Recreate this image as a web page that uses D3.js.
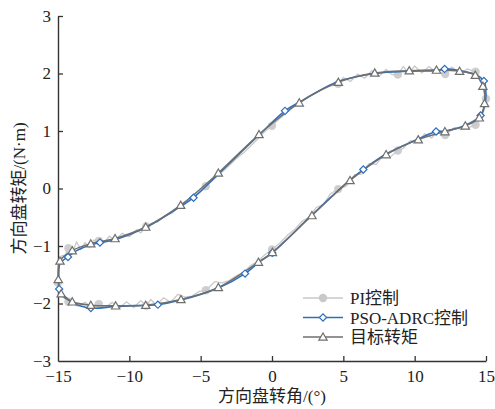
<!DOCTYPE html>
<html>
<head>
<meta charset="utf-8">
<script src="https://cdn.jsdelivr.net/npm/d3@7"></script>
<style>
  html, body { margin: 0; padding: 0; background: #fff; }
  svg { display: block; }
  text { font-family: "Liberation Serif", "Noto Sans CJK SC", serif; fill: #222; }
</style>
</head>
<body>
<svg id="chart" width="495" height="409"></svg>
<script>
// Steering-wheel torque vs. steering angle: hysteresis loops, traversed
// clockwise (upper branch left→right, lower branch right→left).

// Target torque (also the triangle marker positions)
const targetAngle  = [-14.98, -14.86, -14.0, -12.7, -11.0, -8.85, -6.4, -3.76, -0.91, 1.91, 4.65, 7.2, 9.62, 11.53, 13.15, 14.25, 14.78, 14.9, 14.53, 13.55, 12.12, 10.25, 8.0, 5.47, 2.8, 0.03, -0.95, -3.76, -6.38, -8.85, -10.96, -12.7, -14.0, -14.78];
const targetTorque = [-1.58, -1.26, -1.08, -0.96, -0.87, -0.67, -0.29, 0.27, 0.94, 1.49, 1.85, 2.01, 2.05, 2.06, 2.04, 1.97, 1.78, 1.48, 1.23, 1.09, 0.99, 0.85, 0.59, 0.14, -0.47, -1.11, -1.28, -1.72, -1.93, -2.03, -2.04, -2.03, -1.97, -1.83];

// PSO-ADRC control
const adrcAngle  = [-14.95, -14.85, -14.3, -13.9, -12.7, -12.06, -11.0, -8.85, -6.4, -5.5, -3.76, -0.91, 0.91, 1.91, 4.65, 7.2, 9.62, 11.53, 12.1, 13.15, 14.25, 14.85, 15.0, 14.9, 14.62, 13.55, 12.12, 11.5, 10.25, 8.0, 6.4, 5.47, 2.8, 0.02, -0.95, -1.89, -3.76, -6.38, -8.0, -8.85, -10.96, -12.7, -14.0, -14.92];
const adrcTorque = [-1.62, -1.30, -1.19, -1.11, -0.98, -0.94, -0.89, -0.68, -0.31, -0.16, 0.25, 0.93, 1.35, 1.50, 1.86, 2.00, 2.04, 2.05, 2.08, 2.05, 1.98, 1.87, 1.62, 1.45, 1.27, 1.10, 1.00, 0.99, 0.86, 0.60, 0.33, 0.15, -0.46, -1.12, -1.29, -1.48, -1.73, -1.94, -2.02, -2.03, -2.05, -2.08, -1.98, -1.75];
const adrcMarkAngle  = [-14.3, -12.06, -5.5, 0.91, 12.1, 14.85, 14.62, 11.5, 6.4, 0.02, -1.89, -8.0, -12.7, -14.92];
const adrcMarkTorque = [-1.19, -0.94, -0.16, 1.35, 2.08, 1.87, 1.27, 0.99, 0.33, -1.12, -1.48, -2.02, -2.08, -1.75];

// PI control (measured, noisy)
const piAngle = [
  -14.97, -14.92, -14.75, -14.50, -14.27, -14.00, -13.70, -13.40, -13.10, -12.80,
  -12.50, -12.14, -11.80, -11.40, -11.00, -10.50, -10.00, -9.50, -9.20, -8.82,
  -8.40, -8.00, -7.50, -7.00, -6.50, -6.00, -5.50, -5.00, -4.64, -4.20,
  -3.80, -3.40, -3.00, -2.50, -2.00, -1.50, -1.00, -0.50, 0.00, 0.50,
  1.00, 1.50, 2.00, 2.50, 3.00, 3.50, 4.00, 4.64, 5.00, 5.50,
  6.00, 6.50, 7.00, 7.50, 8.00, 8.40, 8.82, 9.20, 9.60, 10.00,
  10.50, 11.00, 11.50, 12.14, 12.60, 13.20, 13.70, 14.27, 14.65, 14.92,
  15.00, 14.90, 14.65, 14.27, 13.80, 13.30, 12.80, 12.14, 11.70, 11.20,
  10.70, 10.20, 9.70, 9.20, 8.82, 8.30, 7.80, 7.30, 6.80, 6.30,
  5.80, 5.20, 4.64, 4.10, 3.60, 3.10, 2.60, 2.10, 1.60, 1.10,
  0.60, 0.00, -0.50, -1.00, -1.50, -2.00, -2.50, -3.00, -3.50, -4.00,
  -4.64, -5.10, -5.60, -6.10, -6.60, -7.10, -7.60, -8.10, -8.50, -8.82,
  -9.20, -9.70, -10.20, -10.70, -11.20, -11.70, -12.14, -12.60, -13.10, -13.60,
  -14.27, -14.65, -14.90, -15.00
];
const piTorque = [
  -1.52, -1.36, -1.17, -1.16, -1.04, -1.12, -0.93, -1.06, -0.94, -1.03,
  -0.90, -0.91, -0.95, -0.83, -0.90, -0.78, -0.84, -0.72, -0.77, -0.66,
  -0.60, -0.58, -0.47, -0.43, -0.30, -0.22, -0.14, -0.05, 0.04, 0.14,
  0.22, 0.31, 0.40, 0.52, 0.62, 0.74, 0.86, 0.99, 1.09, 1.21,
  1.31, 1.42, 1.49, 1.60, 1.65, 1.72, 1.77, 1.82, 1.93, 1.86,
  1.99, 1.92, 2.05, 1.95, 2.07, 1.98, 1.98, 2.12, 2.00, 2.13,
  2.01, 2.12, 2.02, 1.99, 2.11, 2.00, 2.08, 2.03, 1.93, 1.76,
  1.56, 1.38, 1.22, 1.11, 1.06, 1.03, 1.06, 0.93, 1.01, 0.88,
  0.95, 0.81, 0.83, 0.70, 0.66, 0.55, 0.58, 0.42, 0.43, 0.25,
  0.24, 0.04, -0.01, -0.09, -0.28, -0.33, -0.50, -0.57, -0.71, -0.81,
  -0.94, -1.06, -1.15, -1.27, -1.34, -1.46, -1.52, -1.60, -1.64, -1.62,
  -1.77, -1.79, -1.87, -1.89, -1.84, -1.98, -1.90, -2.03, -1.93, -2.04,
  -1.95, -2.07, -1.97, -2.08, -1.98, -2.07, -2.01, -2.08, -1.98, -2.05,
  -1.97, -1.89, -1.76, -1.64
];
const piMarkAngle  = [-14.27, -12.14, -8.82, -4.64, 0.00, 4.64, 8.82, 12.14, 14.27, 15.00, 14.27, 12.14, 8.82, 4.64, 0.00, -4.64, -8.82, -12.14, -14.27, -15.00];
const piMarkTorque = [-1.04, -0.91, -0.66, 0.04, 1.09, 1.82, 1.98, 1.99, 2.03, 1.56, 1.11, 0.93, 0.66, -0.01, -1.06, -1.77, -2.04, -2.01, -1.97, -1.64];

// Axis ticks
const xTicks = [-15, -10, -5, 0, 5, 10, 15];
const yTicks = [-3, -2, -1, 0, 1, 2, 3];

const seriesNames = ["PI控制", "PSO-ADRC控制", "目标转矩"];
const xTitle = "方向盘转角/(°)";
const yTitle = "方向盘转矩/(N·m)";

const W = 495, H = 409;
const margin = { left: 58, right: 9, top: 16, bottom: 48 };
const svg = d3.select("#chart");

const x = d3.scaleLinear().domain([-15, 15]).range([margin.left, W - margin.right]);
const y = d3.scaleLinear().domain([-3, 3]).range([H - margin.bottom, margin.top]);

const colPI = "#c9c9c9", colADRC = "#2e6fbd", colTarget = "#6f6f6f";

const zip = (a, b) => a.map((v, i) => [v, b[i]]);
const loopLine = d3.line().x(d => x(d[0])).y(d => y(d[1]));

// Axes (ticks point inward)
const fmt = d3.format("d");
const xAxis = svg.append("g")
  .attr("transform", `translate(0,${y(-3)})`)
  .call(d3.axisBottom(x).tickValues(xTicks).tickFormat(fmt).tickSizeInner(-5).tickSizeOuter(0).tickPadding(9));
const yAxis = svg.append("g")
  .attr("transform", `translate(${x(-15)},0)`)
  .call(d3.axisLeft(y).tickValues(yTicks).tickFormat(fmt).tickSizeInner(-5).tickSizeOuter(0).tickPadding(7));
[xAxis, yAxis].forEach(g => {
  g.selectAll("path.domain").attr("stroke", "#333").attr("stroke-width", 1.4);
  g.selectAll(".tick line").attr("stroke", "#333").attr("stroke-width", 1.3);
  g.selectAll(".tick text")
    .style("font-family", '"Liberation Serif", serif')
    .style("font-size", "17px").attr("fill", "#222");
});
xAxis.selectAll(".tick").filter(d => d === -15).select("line").remove();
yAxis.selectAll(".tick").filter(d => d === -3).select("line").remove();

// Axis titles
svg.append("text")
  .attr("x", x(0)).attr("y", 402)
  .attr("text-anchor", "middle")
  .style("font-size", "17px")
  .text(xTitle);
svg.append("text")
  .attr("transform", `translate(25,${y(0)}) rotate(-90)`)
  .attr("text-anchor", "middle")
  .style("font-size", "17px")
  .text(yTitle);

const plot = svg.append("g");

// PI control
plot.append("path")
  .datum(zip(piAngle, piTorque))
  .attr("d", loopLine.curve(d3.curveLinearClosed))
  .attr("fill", "none").attr("stroke", colPI).attr("stroke-width", 1.3);
plot.selectAll("circle.pi")
  .data(zip(piMarkAngle, piMarkTorque))
  .join("circle").attr("class", "pi")
  .attr("cx", d => x(d[0])).attr("cy", d => y(d[1]))
  .attr("r", 4.2).attr("fill", colPI).attr("opacity", 0.9);

// PSO-ADRC line, then target line on top
plot.append("path")
  .datum(zip(adrcAngle, adrcTorque))
  .attr("d", d3.line().x(d => x(d[0])).y(d => y(d[1])).curve(d3.curveCatmullRomClosed.alpha(0.5)))
  .attr("fill", "none").attr("stroke", colADRC).attr("stroke-width", 1.6);
plot.append("path")
  .datum(zip(targetAngle, targetTorque))
  .attr("d", d3.line().x(d => x(d[0])).y(d => y(d[1])).curve(d3.curveCatmullRomClosed.alpha(0.5)))
  .attr("fill", "none").attr("stroke", colTarget).attr("stroke-width", 1.5);

const diamond = d3.symbol().type(d3.symbolSquare).size(26);
const triangle = d3.symbol().type(d3.symbolTriangle).size(30);

plot.selectAll("path.adrc")
  .data(zip(adrcMarkAngle, adrcMarkTorque))
  .join("path").attr("class", "adrc")
  .attr("d", diamond)
  .attr("transform", d => `translate(${x(d[0])},${y(d[1])}) rotate(45)`)
  .attr("fill", "#fff").attr("stroke", colADRC).attr("stroke-width", 1.2);

plot.selectAll("path.target")
  .data(zip(targetAngle, targetTorque))
  .join("path").attr("class", "target")
  .attr("d", triangle)
  .attr("transform", d => `translate(${x(d[0])},${y(d[1]) + 0.8})`)
  .attr("fill", "#fff").attr("stroke", colTarget).attr("stroke-width", 1.2);

// Legend
const legend = svg.append("g");
const rows = [
  { name: seriesNames[0], color: colPI, kind: "circle" },
  { name: seriesNames[1], color: colADRC, kind: "diamond" },
  { name: seriesNames[2], color: colTarget, kind: "triangle" }
];
rows.forEach((r, i) => {
  const cy = 298 + i * 19.5;
  const g = legend.append("g").attr("transform", `translate(0,${cy})`);
  g.append("line").attr("x1", 303).attr("x2", 343).attr("y1", 0).attr("y2", 0)
    .attr("stroke", r.color).attr("stroke-width", r.kind === "circle" ? 1.3 : 1.6);
  if (r.kind === "circle") {
    g.append("circle").attr("cx", 323).attr("cy", 0).attr("r", 4.2).attr("fill", r.color);
  } else if (r.kind === "diamond") {
    g.append("path").attr("d", diamond).attr("transform", "translate(323,0) rotate(45)")
      .attr("fill", "#fff").attr("stroke", r.color).attr("stroke-width", 1.2);
  } else {
    g.append("path").attr("d", triangle).attr("transform", "translate(323,0.8)")
      .attr("fill", "#fff").attr("stroke", r.color).attr("stroke-width", 1.2);
  }
  g.append("text").attr("x", 350).attr("y", 6)
    .style("font-size", "17px").text(r.name);
});
</script>
</body>
</html>
